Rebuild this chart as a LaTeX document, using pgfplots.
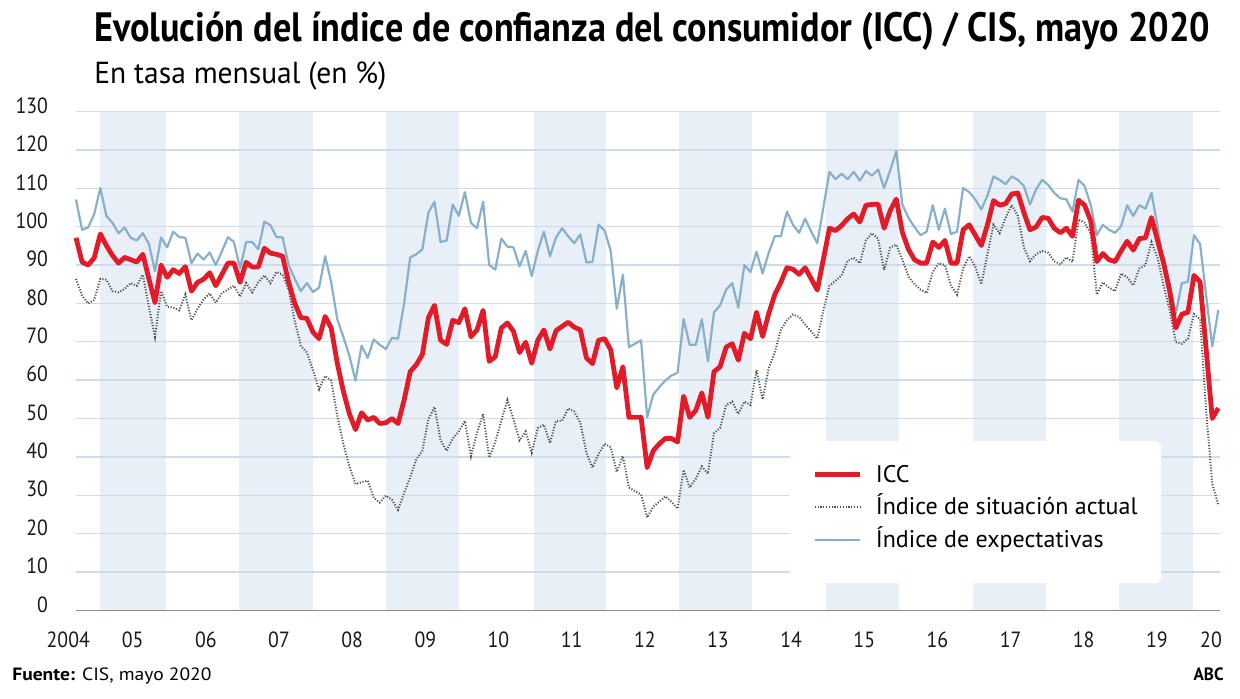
\documentclass[border=0pt]{standalone}
\usepackage{fontspec}
\setmainfont{PT Sans}
\newfontfamily\tickfamily[FakeStretch=0.9]{PT Sans}
\usepackage{graphicx}
\usepackage{pgfplots}
\pgfplotsset{compat=1.18}
\usepackage{pgfplotstable}

\definecolor{iccred}{RGB}{226,27,40}
\definecolor{expblue}{RGB}{137,176,203}
\definecolor{sitgray}{RGB}{80,80,80}
\definecolor{bandc}{RGB}{232,239,246}
\definecolor{gridc}{RGB}{205,220,232}
\definecolor{axisgray}{RGB}{140,140,140}

% k = month index (0 = Sep 2004, 188 = May 2020)
\pgfplotstableread{
k icc sit exp
0 97.1 86.4 107.1
1 90.8 82.0 99.2
2 90.0 80.0 99.8
3 91.9 80.9 103.3
4 98.1 86.4 110.1
5 95.1 86.2 102.8
6 92.5 83.2 101.0
7 90.5 82.9 98.3
8 92.0 83.8 99.8
9 91.4 85.3 97.1
10 90.8 84.6 96.4
11 92.8 87.5 98.3
12 86.4 79.1 95.5
13 80.2 71.3 88.4
14 90.0 83.2 97.2
15 86.8 79.1 94.6
16 88.8 78.9 98.7
17 87.8 78.2 97.3
18 89.6 82.3 97.1
19 83.2 75.6 90.5
20 85.5 78.6 93.0
21 86.3 81.1 91.4
22 88.0 82.6 93.3
23 84.6 80.2 90.0
24 87.5 82.7 93.5
25 90.5 83.6 97.3
26 90.5 84.6 96.0
27 85.5 81.8 89.1
28 90.7 85.3 96.0
29 89.5 82.9 96.0
30 89.5 85.5 94.1
31 94.4 87.3 101.3
32 93.1 85.3 100.4
33 92.8 88.2 97.3
34 92.3 87.5 97.2
35 85.5 83.6 90.0
36 80.0 75.4 86.4
37 76.3 69.0 83.2
38 76.1 67.2 85.3
39 72.5 62.6 83.0
40 70.8 57.6 84.1
41 76.6 61.1 92.3
42 73.6 59.9 85.5
43 64.4 50.7 75.9
44 57.1 43.4 71.3
45 51.2 37.5 66.3
46 47.1 32.9 59.9
47 51.5 33.4 69.0
48 49.6 33.8 65.8
49 50.3 29.3 70.6
50 48.7 28.1 69.2
51 48.9 29.9 68.1
52 50.0 28.8 71.0
53 48.7 26.2 70.8
54 54.8 30.6 80.0
55 62.2 34.7 92.0
56 64.0 39.3 92.8
57 66.7 41.6 94.1
58 76.3 49.8 103.7
59 79.5 53.0 106.5
60 70.4 44.3 96.0
61 69.3 41.6 96.4
62 75.6 44.8 105.8
63 75.0 46.6 102.8
64 78.6 49.4 109.0
65 71.3 40.2 101.0
66 73.1 46.2 99.6
67 78.2 51.2 106.5
68 64.9 39.8 90.0
69 66.1 43.9 88.8
70 73.6 49.4 96.9
71 74.9 54.8 94.8
72 72.7 49.8 94.6
73 67.2 44.3 89.6
74 69.9 46.6 93.7
75 64.4 41.1 87.1
76 70.4 47.5 93.7
77 73.1 48.4 98.7
78 68.1 43.6 92.3
79 72.9 49.4 97.2
80 74.0 49.4 99.6
81 75.1 52.6 97.5
82 73.8 51.8 95.7
83 73.1 48.9 98.0
84 65.8 41.1 90.7
85 64.3 37.2 90.8
86 70.4 40.7 100.5
87 70.8 43.4 99.0
88 67.9 42.5 93.7
89 58.0 36.1 78.6
90 63.5 40.2 87.5
91 50.3 32.0 68.6
92 50.3 31.1 69.5
93 50.3 30.2 70.4
94 37.2 24.2 50.3
95 41.6 27.0 56.2
96 43.4 28.3 58.2
97 44.8 29.7 59.9
98 44.8 28.3 61.2
99 43.9 26.5 61.9
100 55.8 36.6 75.9
101 50.3 32.0 69.2
102 52.1 34.3 69.2
103 56.7 37.5 75.9
104 50.3 35.6 64.9
105 62.2 46.2 77.7
106 63.5 47.5 79.5
107 68.6 53.5 83.6
108 69.5 54.4 85.3
109 65.2 51.2 78.9
110 72.2 54.4 90.0
111 70.8 53.5 88.2
112 77.7 62.6 93.5
113 71.4 55.0 87.8
114 77.3 63.1 93.2
115 82.3 67.2 97.5
116 85.5 73.1 97.5
117 89.3 75.6 103.9
118 88.9 77.1 100.5
119 87.6 76.5 98.4
120 89.3 74.5 102.1
121 86.4 72.7 98.7
122 83.5 70.8 95.7
123 91.5 78.2 105.0
124 99.6 84.6 114.3
125 99.0 85.9 112.4
126 100.3 87.3 113.8
127 102.1 91.1 112.4
128 103.3 91.9 114.3
129 101.2 90.5 112.0
130 105.6 96.4 114.5
131 105.8 98.3 113.3
132 105.9 96.9 114.9
133 99.6 88.7 110.1
134 104.2 94.6 114.7
135 107.2 95.3 119.7
136 98.5 91.4 105.8
137 94.1 87.0 102.3
138 91.4 85.0 99.9
139 90.5 83.6 97.8
140 90.5 82.7 98.7
141 96.0 88.2 105.6
142 94.6 90.5 99.2
143 96.4 90.0 104.7
144 90.5 84.6 98.1
145 90.5 82.3 98.7
146 99.2 89.1 110.1
147 100.5 92.3 109.0
148 97.8 89.6 107.1
149 95.1 85.0 104.5
150 100.5 92.8 108.1
151 106.8 100.5 113.1
152 105.6 98.3 112.2
153 106.0 102.4 111.1
154 108.5 105.6 113.1
155 108.8 102.8 112.2
156 103.7 94.6 110.6
157 99.2 91.0 105.8
158 99.9 92.8 109.7
159 102.4 93.7 112.2
160 102.2 93.2 110.9
161 99.6 91.0 108.8
162 98.4 90.2 107.4
163 99.6 92.0 107.1
164 97.5 90.8 103.9
165 106.9 101.9 112.2
166 105.6 101.0 110.6
167 101.5 98.3 105.6
168 90.9 82.3 97.8
169 93.0 85.5 100.5
170 91.4 84.1 99.2
171 90.9 83.2 98.4
172 93.7 87.8 100.1
173 96.2 86.8 105.6
174 93.9 84.7 102.8
175 96.9 89.1 105.6
176 97.1 90.0 104.7
177 102.4 96.0 108.8
178 96.4 91.9 100.1
179 90.5 84.6 90.0
180 83.2 78.2 85.0
181 73.6 69.9 77.3
182 77.2 69.5 85.3
183 77.7 70.8 85.6
184 87.3 77.2 97.8
185 85.6 75.9 95.5
186 68.0 52.0 82.0
187 50.0 33.0 68.8
188 52.7 27.5 78.3
}\datatable

\newcommand{\tickfont}{\tickfamily\fontsize{11}{13}\selectfont}
\newcommand{\legfont}{\fontsize{12}{14}\selectfont}

\begin{document}
\begin{tikzpicture}[x=1pt,y=1pt]
\path (0,0) rectangle (620,349);

% title, subtitle, footer
\node[anchor=base west, inner sep=0pt] at (47,328.15)
  {\resizebox{558pt}{\height}{\fontsize{20.5}{24}\selectfont\bfseries Evolución del índice de confianza del consumidor (ICC) / CIS, mayo 2020}};
\node[anchor=base west, inner sep=0pt] at (47,307)
  {\resizebox{146pt}{\height}{\fontsize{15.2}{18}\selectfont En tasa mensual (en \%)}};
\node[anchor=base west, inner sep=0pt] at (6,8.65)
  {\resizebox{99.5pt}{\height}{\fontsize{8.9}{10}\selectfont\textbf{Fuente:} CIS, mayo 2020}};
\node[anchor=base east, inner sep=0pt] at (612,8.65)
  {\resizebox{15pt}{\height}{\fontsize{8.9}{10}\selectfont\bfseries ABC}};

\begin{axis}[
  set layers,
  at={(38pt,43.85pt)}, anchor=south west,
  scale only axis, width=572pt, height=249.35pt,
  xmin=0, xmax=188.28, ymin=0, ymax=130,
  axis line style={draw=none},
  major tick length=0pt,
  ytick={10,20,...,130},
  extra y ticks={0},
  extra y tick style={grid style={draw=axisgray, line width=0.8pt}},
  ymajorgrids,
  grid style={draw=gridc, line width=0.65pt},
  xtick={9.33,21.37,33.41,45.45,57.49,69.53,81.57,93.61,105.65,117.69,129.73,141.77,153.81,165.85,177.89,186.8},
  xticklabels={05,06,07,08,09,10,11,12,13,14,15,16,17,18,19,20},
  xticklabel style={anchor=base, inner sep=0pt, yshift=-18.45pt, font=\tickfont, text=black!90},
  yticklabel style={anchor=base east, inner sep=0pt, xshift=-13.85pt, yshift=-0.85pt, font=\tickfont, text=black!90},
  /pgf/number format/assume math mode=true,
  clip=false,
  legend cell align=left,
  reverse legend,
  legend image code/.code={\draw[#1] (0pt,1pt) -- (22.5pt,1pt);},
  legend style={at={(0.6434,0.29)}, anchor=north west, draw=none, fill=none,
    inner sep=0pt, row sep=6pt, column sep=6.8pt,
    nodes={inner sep=0pt, text height=8pt, text depth=2.4pt, font=\legfont}},
]
\begin{pgfonlayer}{axis background}
\fill[bandc] (axis cs:3.95,0) rectangle (axis cs:14.76,130);
\fill[bandc] (axis cs:26.9,0) rectangle (axis cs:38.96,130);
\fill[bandc] (axis cs:51.0,0) rectangle (axis cs:63.0,130);
\fill[bandc] (axis cs:75.3,0) rectangle (axis cs:87.2,130);
\fill[bandc] (axis cs:99.3,0) rectangle (axis cs:111.3,130);
\fill[bandc] (axis cs:123.5,0) rectangle (axis cs:135.5,130);
\fill[bandc] (axis cs:147.6,0) rectangle (axis cs:159.6,130);
\fill[bandc] (axis cs:171.7,0) rectangle (axis cs:183.8,130);
\end{pgfonlayer}
\begin{pgfonlayer}{pre main}
\fill[white, rounded corners=3pt] (axis cs:117.5,7.1) rectangle (axis cs:178.6,44.1);
\end{pgfonlayer}
\node[anchor=base, inner sep=0pt, font=\tickfont, text=black!90] at ([yshift=-18.45pt]axis cs:-1.27,0) {2004};

\addplot[expblue, line width=1.1pt, line join=round] table[x=k, y=exp] {\datatable};
\addlegendentry{Índice de expectativas}
\addplot[sitgray, line width=1pt, dash pattern=on 0.55pt off 0.85pt] table[x=k, y=sit] {\datatable};
\addlegendentry{Índice de situación actual}
\addplot[iccred, line width=2.4pt, line join=round] table[x=k, y=icc] {\datatable};
\addlegendentry{ICC}
\end{axis}
\end{tikzpicture}
\end{document}
